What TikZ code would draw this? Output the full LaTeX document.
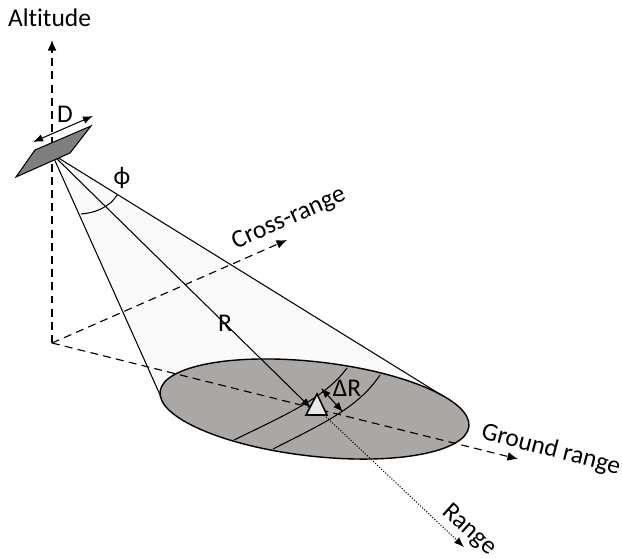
\documentclass[tikz,border=0pt]{standalone}
\usepackage{fontspec}
\setmainfont{Carlito}[Ligatures=CommonOff]
\usepackage{xcolor}
\usepackage{tikz}
\usetikzlibrary{arrows.meta,positioning,calc}
\definecolor{spotgray}{HTML}{ABA7A5}
\definecolor{antgray}{HTML}{7F7F7F}
\definecolor{beamgray}{HTML}{FAFAFA}
\definecolor{targetgray}{HTML}{E8E8E8}
\tikzset{
  axisline/.style={-{Latex[length=6pt,width=5pt]},dash pattern=on 4.5pt off 3pt,line width=0.65pt},
  beamline/.style={line width=0.6pt},
  lab/.style={font=\fontsize{14.5}{16}\selectfont,inner sep=0pt}
}
\begin{document}
\begin{tikzpicture}[x=0.2mm,y=-0.2mm,>=Latex]
  \useasboundingbox (0,0) rectangle (622,558);
  \coordinate (origin) at (52,343);
  \coordinate (alttip) at (52,40);
  \coordinate (crosstip) at (287,240);
  \coordinate (groundtip) at (518,459);
  \coordinate (apex) at (52,154);
  \coordinate (beamL) at (161,397);
  \coordinate (beamR) at (443,396);
  \coordinate (beamC) at (311,408);
  \coordinate (rangestart) at (322,413);
  \coordinate (rangetip) at (464,547);
  % beam and footprint
  \fill[beamgray] (apex)--(beamL)--(beamC)--(beamR)--cycle;
  \draw[axisline] (origin)--(alttip);
  \draw[axisline] (origin)--(crosstip);
  \draw[fill=spotgray,line width=0.8pt] (314.5,409) ellipse [x radius=155.4,y radius=47.2,rotate=-6.45];
  \draw[axisline] (origin)--(groundtip);
  \draw[beamline] (apex)--(beamL);
  \draw[beamline] (apex)--(beamR);
  \draw[beamline,->] (apex)--(beamC);
  \draw[beamline,fill=antgray] (35,150)--(91,126)--(70,153)--(16,177)--cycle;
  \draw[beamline,<->] (33,142)--(93,116);
  \draw[beamline] (81,214) .. controls (95,213) and (110,207) .. (117,195);
  % range cell
  \draw[beamline] (347,368) .. controls (325,398) and (285,415) .. (234,440);
  \draw[beamline] (380,375) .. controls (358,408) and (322,424) .. (273,449);
  \draw[beamline,<->] (321,388)--(343,412);
  \draw[beamline,->,densely dotted] (rangestart)--(rangetip);
  \draw[line width=0.9pt,fill=targetgray] (317,394)--(306,415)--(327,415)--cycle;
  % labels
  \node[lab] (altlabel) at (49.5,18) {Altitude};
  \node[lab] (dlabel) at (65,114) {D};
  \node[lab] (philabel) at (122,178) {ϕ};
  \node[lab,rotate=24] (crosslabel) at (289,219) {Cross-range};
  \node[lab] (rlabel) at (225,323) {R};
  \node[lab] (drlabel) at (347,388) {ΔR};
  \node[lab,rotate=-14.5] (groundlabel) at (551,450) {Ground range};
  \node[lab,rotate=-42] (rangelabel) at (469,530) {Range};
\end{tikzpicture}
\end{document}
